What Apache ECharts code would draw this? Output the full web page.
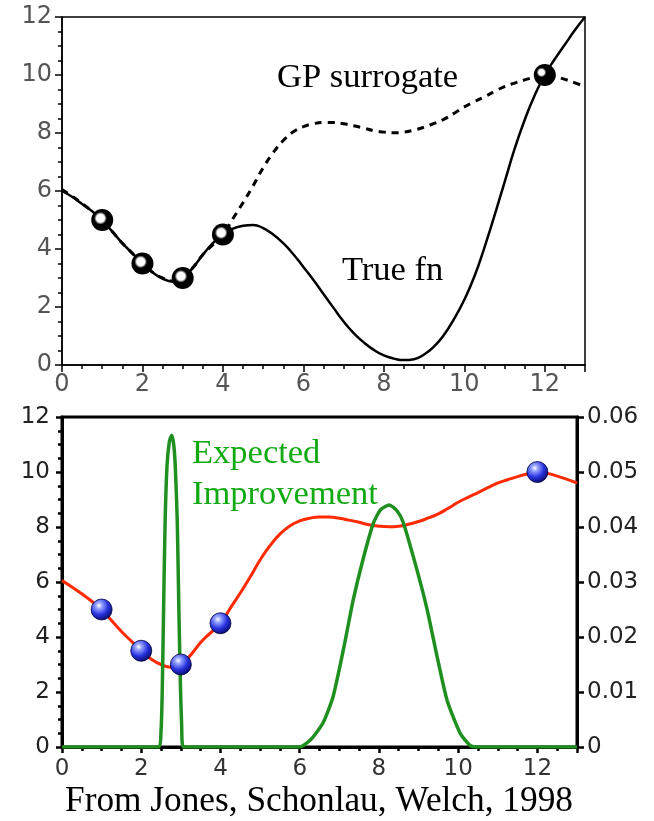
<!DOCTYPE html>
<html lang="en">
<head>
    <meta charset="UTF-8">
    <title>GP surrogate / Expected Improvement</title>
    <style>
        html, body { margin: 0; padding: 0; background: #fff; }
    </style>
</head>
<body>
    <div id="main" style="height:821px; width:654px;"></div>
    <script src="https://cdn.jsdelivr.net/npm/echarts@6/dist/echarts.min.js"></script>
    <script>
        // x grid for the two smooth curves (step 0.25)
        var xs = [0, 0.25, 0.5, 0.75, 1, 1.25, 1.5, 1.75, 2, 2.25, 2.5, 2.75, 3, 3.25, 3.5, 3.75,
            4, 4.25, 4.5, 4.75, 5, 5.25, 5.5, 5.75, 6, 6.25, 6.5, 6.75, 7, 7.25, 7.5, 7.75,
            8, 8.25, 8.5, 8.75, 9, 9.25, 9.5, 9.75, 10, 10.25, 10.5, 10.75, 11, 11.25, 11.5, 11.75,
            12, 12.25, 12.5, 12.75, 13];
        // true function (solid black, top)
        var trueFn = [6.0, 5.8, 5.55, 5.3, 5.0, 4.6, 4.2, 3.85, 3.5, 3.2, 2.98, 2.88, 3.0, 3.35, 3.8, 4.2,
            4.5, 4.7, 4.8, 4.83, 4.72, 4.5, 4.2, 3.82, 3.38, 2.93, 2.45, 1.97, 1.5, 1.1, 0.78, 0.52,
            0.33, 0.22, 0.17, 0.2, 0.36, 0.64, 1.05, 1.6, 2.25, 3.05, 4.05, 5.15, 6.3, 7.45, 8.45, 9.3,
            10.0, 10.55, 11.05, 11.55, 12.0];
        // GP surrogate mean (dashed top, red bottom)
        var gpMean = [6.05, 5.82, 5.57, 5.3, 5.0, 4.6, 4.2, 3.85, 3.5, 3.2, 3.0, 2.9, 3.0, 3.35, 3.8, 4.15,
            4.5, 5.05, 5.6, 6.18, 6.8, 7.32, 7.74, 8.04, 8.22, 8.32, 8.36, 8.36, 8.32, 8.25, 8.17, 8.08,
            8.03, 8.01, 8.03, 8.1, 8.2, 8.33, 8.48, 8.68, 8.9, 9.08, 9.25, 9.43, 9.6, 9.72, 9.83, 9.93,
            10.0, 9.95, 9.85, 9.73, 9.6];
        // sampled points
        var obsX = [1, 2, 3, 4, 12];
        var obsY = [5, 3.5, 3, 4.5, 10];
        // expected improvement (right axis)
        var eiX = [0, 2.43, 2.5, 2.53, 2.56, 2.6, 2.65, 2.71, 2.77, 2.82, 2.86, 2.91, 2.95, 2.99, 3.02, 3.06,
            6.0, 6.3, 6.59, 6.84, 7.1, 7.35, 7.58, 7.86, 8.05, 8.26, 8.45, 8.61, 8.96, 9.22, 9.47, 9.72,
            10.05, 10.3, 10.48, 13];
        var eiY = [0, 0, 0.003, 0.01, 0.023, 0.04, 0.051, 0.0555, 0.0567, 0.055, 0.051, 0.041, 0.025, 0.011, 0.004, 0,
            0, 0.0015, 0.0044, 0.0091, 0.0176, 0.0267, 0.0336, 0.0407, 0.0432, 0.044, 0.043, 0.0409, 0.0322, 0.0249, 0.0164, 0.0085,
            0.0025, 0.0003, 0, 0];

        function pairs(x, y) {
            var out = [];
            for (var i = 0; i < x.length; i++) out.push([x[i], y[i]]);
            return out;
        }

        var labelFont = 'DejaVu Sans, Verdana, sans-serif';
        var serif = 'Liberation Serif, Times New Roman, serif';

        var ringColor = new echarts.graphic.RadialGradient(0.42, 0.42, 0.6, [
            {offset: 0, color: '#ffffff'},
            {offset: 0.3, color: '#ffffff'},
            {offset: 0.48, color: '#000000'},
            {offset: 1, color: '#000000'}
        ]);
        var ballColor = new echarts.graphic.RadialGradient(0.38, 0.32, 0.75, [
            {offset: 0, color: '#ffffff'},
            {offset: 0.18, color: '#9aa8ff'},
            {offset: 0.55, color: '#2a35e0'},
            {offset: 1, color: '#00005a'}
        ]);

        var topPts = pairs(obsX, obsY).map(function (p, i) {
            if (obsX[i] === 12) {
                return {value: p, itemStyle: {color: new echarts.graphic.RadialGradient(0.35, 0.38, 0.6, [
                    {offset: 0, color: '#ffffff'},
                    {offset: 0.22, color: '#ffffff'},
                    {offset: 0.36, color: '#000000'},
                    {offset: 1, color: '#000000'}
                ])}};
            }
            return {value: p};
        });

        var myChart = echarts.init(document.getElementById('main'));
        var option = {
            animation: false,
            backgroundColor: '#fff',
            grid: [
                {left: 62, top: 17, width: 523, height: 348, show: true, borderColor: '#000', borderWidth: 1.5},
                {left: 62, top: 417, width: 515, height: 330, show: true, borderColor: '#000', borderWidth: 3}
            ],
            xAxis: [
                {
                    gridIndex: 0, type: 'value', min: 0, max: 13, interval: 2,
                    axisLine: {lineStyle: {color: '#000', width: 1.5}},
                    axisTick: {length: 7, lineStyle: {color: '#000', width: 1.5}},
                    minorTick: {show: true, splitNumber: 4, length: 4, lineStyle: {color: '#000', width: 1.5}},
                    splitLine: {show: false},
                    axisLabel: {color: '#555', fontSize: 24, fontFamily: labelFont, margin: 8, showMaxLabel: false}
                },
                {
                    gridIndex: 1, type: 'value', min: 0, max: 13, interval: 2,
                    axisLine: {lineStyle: {color: '#000', width: 3}},
                    axisTick: {length: 6, lineStyle: {color: '#000', width: 2.5}},
                    minorTick: {show: true, splitNumber: 4, length: 4, lineStyle: {color: '#000', width: 2.5}},
                    splitLine: {show: false},
                    axisLabel: {color: '#333', fontSize: 23, fontFamily: labelFont, margin: 11, showMaxLabel: false}
                }
            ],
            yAxis: [
                {
                    gridIndex: 0, type: 'value', min: 0, max: 12, interval: 2,
                    axisLine: {show: true, lineStyle: {color: '#000', width: 1.5}},
                    axisTick: {show: true, length: 7, lineStyle: {color: '#000', width: 1.5}},
                    minorTick: {show: true, splitNumber: 4, length: 4, lineStyle: {color: '#000', width: 1.5}},
                    splitLine: {show: false},
                    axisLabel: {color: '#555', fontSize: 24, fontFamily: labelFont, margin: 10}
                },
                {
                    gridIndex: 1, type: 'value', min: 0, max: 12, interval: 2,
                    axisLine: {show: true, lineStyle: {color: '#000', width: 3}},
                    axisTick: {show: true, length: 6, lineStyle: {color: '#000', width: 2.5}},
                    minorTick: {show: true, splitNumber: 4, length: 4, lineStyle: {color: '#000', width: 2.5}},
                    splitLine: {show: false},
                    axisLabel: {color: '#222', fontSize: 23, fontFamily: labelFont, margin: 12}
                },
                {
                    gridIndex: 1, type: 'value', position: 'right', min: 0, max: 0.06, interval: 0.01,
                    axisLine: {show: true, lineStyle: {color: '#000', width: 3}},
                    axisTick: {show: true, length: 7, lineStyle: {color: '#000', width: 2.5}},
                    splitLine: {show: false},
                    axisLabel: {color: '#222', fontSize: 23, fontFamily: labelFont, margin: 10}
                }
            ],
            graphic: [
                {type: 'text', left: 277, top: 60, style: {text: 'GP surrogate', font: '34.5px ' + serif, fill: '#000'}},
                {type: 'text', left: 342, top: 253, style: {text: 'True fn', font: '34.5px ' + serif, fill: '#000'}},
                {type: 'text', left: 192, top: 436, style: {text: 'Expected', font: '34.5px ' + serif, fill: '#12aa12'}},
                {type: 'text', left: 192, top: 477, style: {text: 'Improvement', font: '34.5px ' + serif, fill: '#12aa12'}},
                {type: 'text', left: 65, top: 784, style: {text: 'From Jones, Schonlau, Welch, 1998', font: '35.3px ' + serif, fill: '#000'}}
            ],
            series: [
                {
                    name: 'True fn', type: 'line', xAxisIndex: 0, yAxisIndex: 0,
                    data: pairs(xs, trueFn), smooth: 0.5, showSymbol: false,
                    lineStyle: {color: '#000', width: 2.5}, z: 2
                },
                {
                    name: 'GP surrogate', type: 'line', xAxisIndex: 0, yAxisIndex: 0,
                    data: pairs(xs, gpMean), smooth: 0.5, showSymbol: false,
                    lineStyle: {color: '#000', width: 3, type: [7, 6]}, z: 2
                },
                {
                    name: 'samples', type: 'scatter', xAxisIndex: 0, yAxisIndex: 0,
                    data: topPts, symbolSize: 22,
                    itemStyle: {color: ringColor, opacity: 1}, z: 3
                },
                {
                    name: 'GP mean', type: 'line', xAxisIndex: 1, yAxisIndex: 1,
                    data: pairs(xs, gpMean), smooth: 0.5, showSymbol: false,
                    lineStyle: {color: '#ff2a00', width: 3}, z: 2
                },
                {
                    name: 'EI', type: 'line', xAxisIndex: 1, yAxisIndex: 2,
                    data: pairs(eiX, eiY), smooth: 0.2, showSymbol: false,
                    lineStyle: {color: '#1f8f1f', width: 3.5}, z: 3
                },
                {
                    name: 'samples2', type: 'scatter', xAxisIndex: 1, yAxisIndex: 1,
                    data: pairs(obsX, obsY), symbolSize: 21,
                    itemStyle: {color: ballColor, borderColor: '#00003a', borderWidth: 0.8, opacity: 1}, z: 4
                }
            ]
        };
        myChart.setOption(option);
    </script>
</body>
</html>
